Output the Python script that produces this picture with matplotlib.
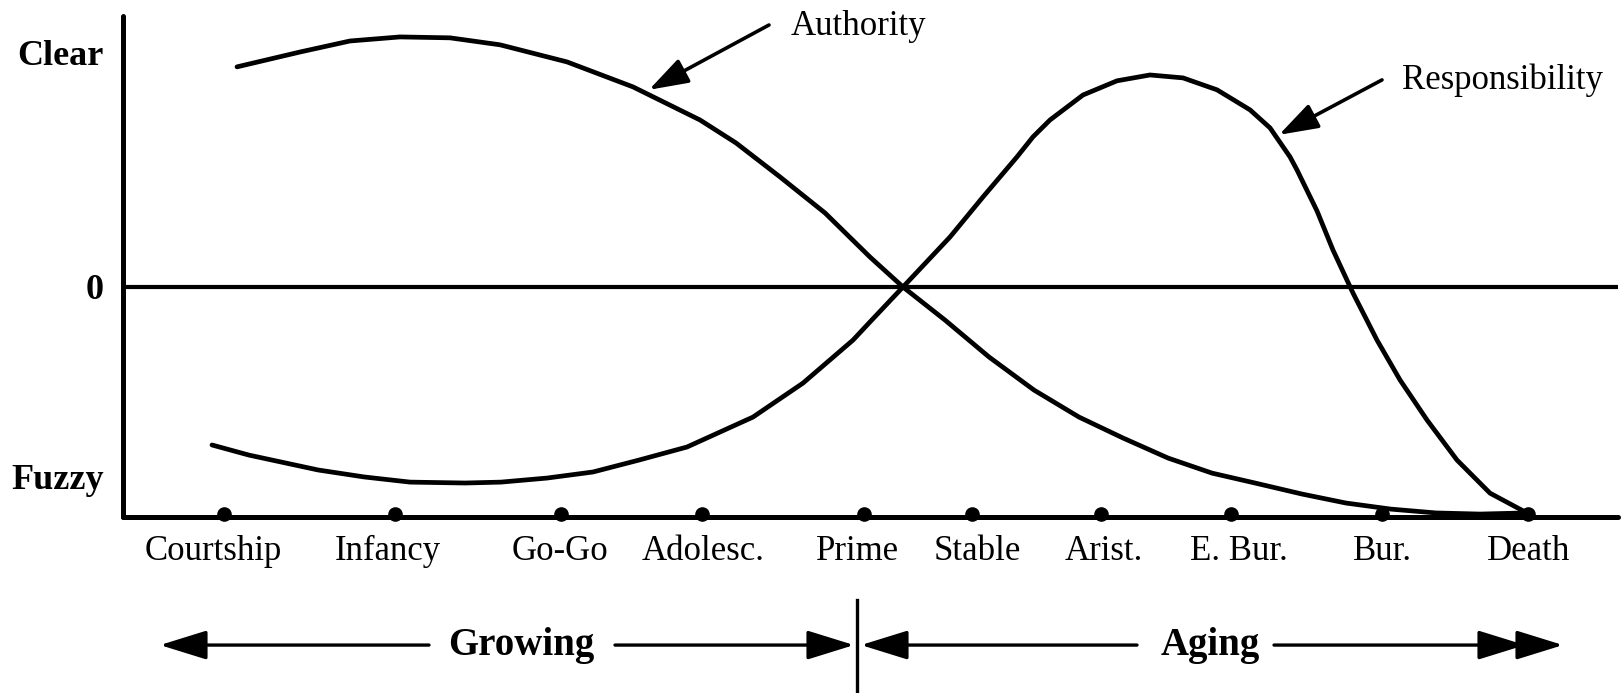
import matplotlib.pyplot as plt

plt.rcParams['font.family'] = ['Liberation Serif', 'DejaVu Serif']

# life-cycle stages, where their dots sit and where their names are centred
stages = ['Courtship', 'Infancy', 'Go-Go', 'Adolesc.', 'Prime',
          'Stable', 'Arist.', 'E. Bur.', 'Bur.', 'Death']
stage_pos = [224, 395, 561, 702, 864, 972, 1101, 1231, 1382, 1528]
label_pos = [213, 388, 560, 703, 858, 977, 1104, 1239, 1382, 1529]

# clarity scale: Clear above, Fuzzy below the zero line
clarity_ticks = [1.04, 0.0, -0.84]
clarity_labels = ['Clear', '0', 'Fuzzy']

# Authority curve
auth_x = [237, 300, 350, 400, 450, 500, 567, 633, 700, 736, 780, 825, 870,
          903, 945, 989, 1034, 1079, 1123, 1168, 1212, 1255, 1302, 1346,
          1391, 1436, 1480, 1525]
auth_y = [0.978, 1.044, 1.093, 1.111, 1.107, 1.076, 1.000, 0.889, 0.742,
          0.640, 0.489, 0.329, 0.133, 0.0, -0.147, -0.311, -0.458, -0.578,
          -0.671, -0.760, -0.827, -0.871, -0.920, -0.960, -0.987, -1.004,
          -1.009, -1.004]

# Responsibility curve
resp_x = [212, 249, 318, 364, 410, 465, 501, 547, 593, 639, 687, 753, 803,
          853, 869, 903, 950, 983, 1017, 1033, 1050, 1083, 1117, 1150, 1183,
          1217, 1250, 1270, 1290, 1297, 1317, 1333, 1353, 1377, 1400, 1427,
          1457, 1490, 1527]
resp_y = [-0.702, -0.747, -0.813, -0.844, -0.867, -0.871, -0.867, -0.849,
          -0.822, -0.769, -0.711, -0.578, -0.427, -0.236, -0.160, 0.0, 0.222,
          0.400, 0.578, 0.667, 0.742, 0.853, 0.916, 0.942, 0.929, 0.876,
          0.787, 0.707, 0.578, 0.520, 0.338, 0.164, -0.027, -0.236, -0.413,
          -0.591, -0.769, -0.916, -1.004]

# phases below the axis
phase_split = 857
phases = ['Growing', 'Aging']
phase_text_x = [521, 1210]

fig = plt.figure(figsize=(16.21, 6.93), dpi=100)
ax = fig.add_axes([123 / 1621, 176 / 693, 1495 / 1621, 501 / 693])
ax.set_xlim(123, 1618)
ax.set_ylim(-1.022, 1.204)

for s in ['top', 'right']:
    ax.spines[s].set_visible(False)
for s in ['left', 'bottom']:
    ax.spines[s].set_linewidth(3.6)
    ax.spines[s].set_capstyle('round')

ax.axhline(0, color='black', lw=3.0)

ax.plot(auth_x, auth_y, color='black', lw=3.4, solid_capstyle='round',
        solid_joinstyle='round')
ax.plot(resp_x, resp_y, color='black', lw=3.4, solid_capstyle='round',
        solid_joinstyle='round')

# stage dots sitting on the axis
ax.plot(stage_pos, [-1.008] * len(stage_pos), 'o', color='black',
        markersize=9.5, clip_on=False, zorder=3)

ax.set_xticks(label_pos)
ax.set_xticklabels(stages, fontsize=25)
ax.tick_params(axis='x', length=0, pad=13)
ax.set_yticks(clarity_ticks)
ax.set_yticklabels(clarity_labels, fontsize=26, fontweight='bold')
ax.tick_params(axis='y', length=0, pad=14)

# curve labels with arrows
head = dict(arrowstyle='-|>,head_length=1.2,head_width=0.4', color='black',
            lw=2.6, mutation_scale=20, shrinkA=0, shrinkB=0)
ax.annotate('', xy=(649, 0.876), xytext=(769, 1.164), arrowprops=head)
ax.text(791, 1.157, 'Authority', fontsize=25, va='center', ha='left')
ax.annotate('', xy=(1279, 0.676), xytext=(1382, 0.92), arrowprops=head)
ax.text(1402, 0.918, 'Responsibility', fontsize=25, va='center', ha='left')

# Growing / Aging arrows
ya = -1.591
big = dict(arrowstyle='-|>,head_length=1.45,head_width=0.45', color='black',
           lw=2.4, mutation_scale=20, shrinkA=0, shrinkB=0)
arrow_spans = [(429, 160), (615, 854), (1137, 861), (1274, 1525), (1520, 1563)]
for x0, x1 in arrow_spans:
    ax.annotate('', xy=(x1, ya), xytext=(x0, ya), arrowprops=big,
                annotation_clip=False)
for name, xt in zip(phases, phase_text_x):
    ax.text(xt, ya, name, fontsize=28, fontweight='bold', ha='center',
            va='center')
ax.plot([phase_split, phase_split], [-1.391, -1.81], color='black', lw=2.4,
        clip_on=False)

fig.savefig('out.png', dpi=100)
